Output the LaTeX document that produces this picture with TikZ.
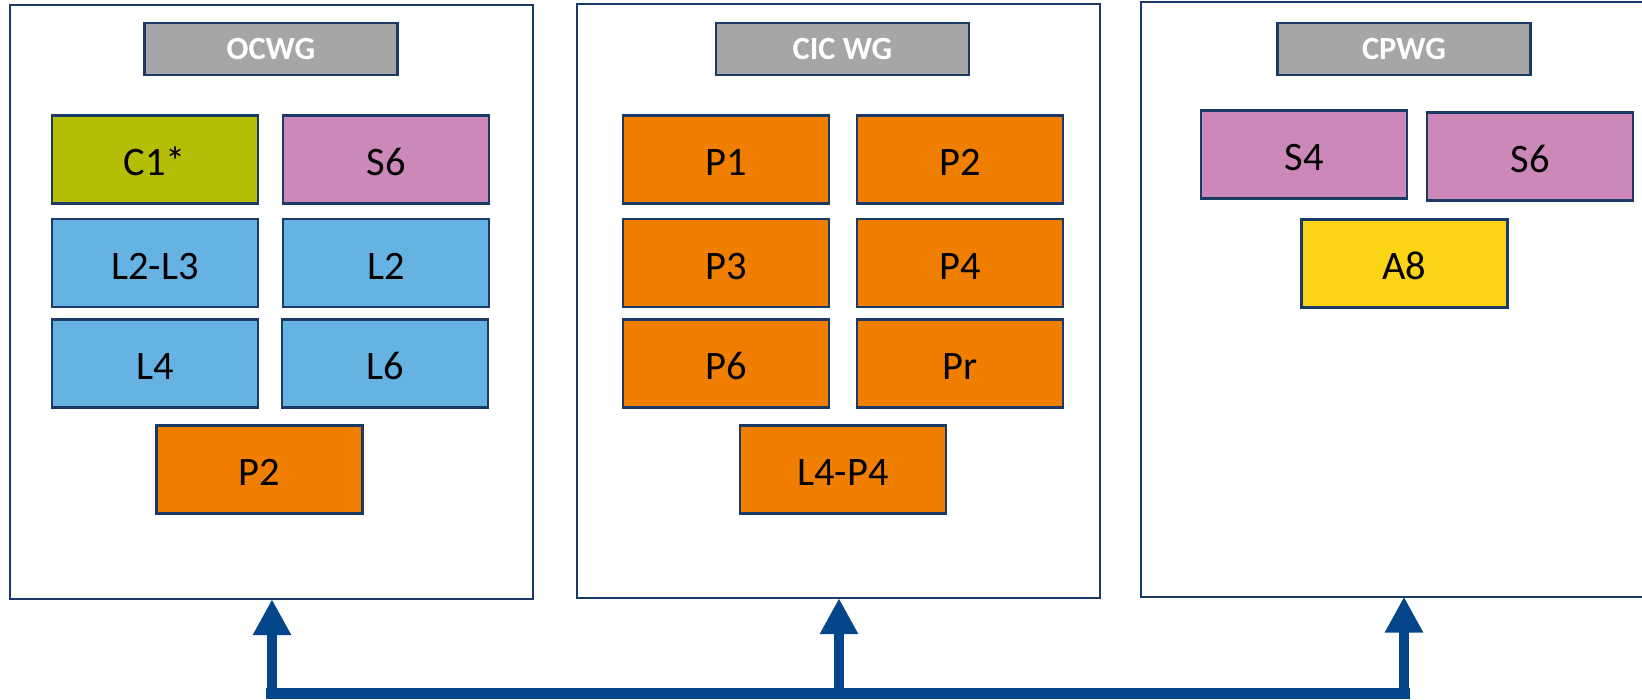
\documentclass[tikz,border=0pt]{standalone}
\usepackage{fontspec}
\setmainfont{Carlito}
\usetikzlibrary{arrows.meta}
\definecolor{navy}{HTML}{1B3A66}
\definecolor{arrowblue}{HTML}{03468A}
\definecolor{titlegray}{HTML}{A6A6A6}
\definecolor{olive}{HTML}{B5BE06}
\definecolor{pinkbox}{HTML}{CC88B8}
\definecolor{bluebox}{HTML}{66B3E3}
\definecolor{orangebox}{HTML}{F07E00}
\definecolor{yellowbox}{HTML}{FCD416}
\begin{document}
\begin{tikzpicture}[x=0.01cm,y=-0.01cm,
  groupbox/.style={draw=navy, line width=0.55pt, fill=white, rectangle, inner sep=0pt, outer sep=0pt,
    minimum width=5.23cm, minimum height=5.94cm},
  titlebox/.style={draw=navy, line width=0.8pt, fill=titlegray, rectangle, inner sep=0pt, outer sep=0pt,
    minimum width=2.53cm, minimum height=0.52cm, text=white, font=\fontsize{9.2}{10}\selectfont\bfseries},
  item/.style={draw=navy, line width=0.75pt, rectangle, inner sep=0pt, outer sep=0pt,
    minimum width=2.06cm, minimum height=0.88cm, font=\fontsize{11.5}{13}\selectfont,
    text height=9.1pt, text depth=0pt},
  shaft/.style={draw=arrowblue, line width=2.9pt},
  bar/.style={draw=arrowblue, line width=3.4pt, line cap=rect},
  uptip/.style={-{Triangle[length=10.2pt, width=10.2pt]}}
]
\useasboundingbox (0,0) rectangle (1642,700);

% group boxes
\node[groupbox] (g1) at (271.75,302) {};
\node[groupbox] (g2) at (838.5,301) {};
\node[groupbox] (g3) at (1402.5,299.5) {};

% titles
\node[titlebox] (t1) at (271,49) {OCWG};
\node[titlebox] (t2) at (842.5,49) {CIC WG};
\node[titlebox] (t3) at (1404,49) {CPWG};

% OCWG
\node[item, fill=olive] (o1) at (155,159.5) {C1*};
\node[item, fill=pinkbox] (o2) at (386,159.5) {S6};
\node[item, fill=bluebox] (o3) at (155,263) {L2-L3};
\node[item, fill=bluebox] (o4) at (386,263) {L2};
\node[item, fill=bluebox] (o5) at (155,363.5) {L4};
\node[item, fill=bluebox] (o6) at (385,363.5) {L6};
\node[item, fill=orangebox] (o7) at (259.5,469.5) {P2};

% CIC WG
\node[item, fill=orangebox] (c1) at (726,159.5) {P1};
\node[item, fill=orangebox] (c2) at (960,159.5) {P2};
\node[item, fill=orangebox] (c3) at (726,263) {P3};
\node[item, fill=orangebox] (c4) at (960,263) {P4};
\node[item, fill=orangebox] (c5) at (726,363.5) {P6};
\node[item, fill=orangebox] (c6) at (960,363.5) {Pr};
\node[item, fill=orangebox] (c7) at (843,469.5) {L4-P4};

% CPWG
\node[item, fill=pinkbox] (p1) at (1304,154.5) {S4};
\node[item, fill=pinkbox] (p2) at (1530,156.5) {S6};
\node[item, fill=yellowbox] (p3) at (1404.5,263.5) {A8};

% connectors
\coordinate (j1) at (272,693.5);
\coordinate (j2) at (839,693.5);
\coordinate (j3) at (1404,693.5);
\draw[bar] (j1) -- (j3);
\draw[shaft, uptip] (j1) -- (g1.south -| j1);
\draw[shaft, uptip] (j2) -- (g2.south -| j2);
\draw[shaft, uptip] (j3) -- (g3.south -| j3);
\end{tikzpicture}
\end{document}
